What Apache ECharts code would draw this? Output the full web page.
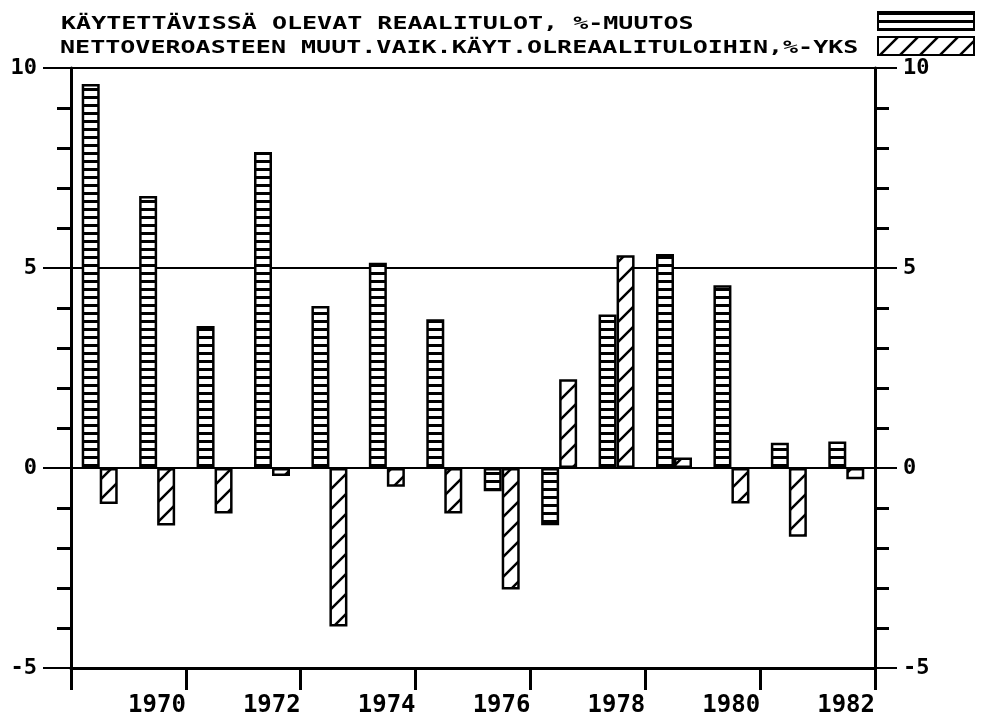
<!DOCTYPE html>
<html>
<head>
<meta charset="utf-8">
<style>
  html, body { margin: 0; padding: 0; background: #fff; }
  #chart { width: 983px; height: 719px; }
</style>
<script src="https://cdn.jsdelivr.net/npm/echarts@6/dist/echarts.min.js"></script>
</head>
<body>
<div id="chart"></div>
<script>
// vuodet (kategoriat)
const years = ['1969', '1970', '1971', '1972', '1973', '1974', '1975',
               '1976', '1977', '1978', '1979', '1980', '1981', '1982'];

// käytettävissä olevat reaalitulot, %-muutos
const realIncome = [9.6, 6.8, 3.55, 7.9, 4.05, 5.13, 3.72, -0.58, -1.43, 3.84, 5.35, 4.57, 0.63, 0.66];

// nettoveroasteen muutoksen vaikutus, %-yks
const taxEffect = [-0.9, -1.44, -1.14, -0.2, -3.96, -0.47, -1.14, -3.04, 2.22, 5.32, 0.26, -0.89, -1.72, -0.28];

const seriesNames = [
    'KÄYTETTÄVISSÄ OLEVAT REAALITULOT, %-MUUTOS',
    'NETTOVEROASTEEN MUUT.VAIK.KÄYT.OLREAALITULOIHIN,%-YKS'
];

const yTicks = { min: -5, max: 10, step: 5 };
const firstYear = 1968;

// vaakaraidat
function stripePattern() {
    const c = document.createElement('canvas');
    c.width = 8; c.height = 8;
    const ctx = c.getContext('2d');
    ctx.fillStyle = '#fff';
    ctx.fillRect(0, 0, 8, 8);
    ctx.fillStyle = '#000';
    ctx.fillRect(0, 0, 8, 3);
    return { image: c, repeat: 'repeat' };
}

// vinoviivoitus
function hatchPattern() {
    const s = 20;
    const c = document.createElement('canvas');
    c.width = s; c.height = s;
    const ctx = c.getContext('2d');
    ctx.fillStyle = '#fff';
    ctx.fillRect(0, 0, s, s);
    ctx.strokeStyle = '#000';
    ctx.lineWidth = 2.5;
    ctx.beginPath();
    ctx.moveTo(-2, s + 2); ctx.lineTo(s + 2, -2);
    ctx.moveTo(-3, 3); ctx.lineTo(3, -3);
    ctx.moveTo(s - 3, s + 3); ctx.lineTo(s + 3, s - 3);
    ctx.stroke();
    return { image: c, repeat: 'repeat' };
}

const monoFont = 'DejaVu Sans Mono';

function yAxisCfg(position, tickLen, margin) {
    return {
        type: 'value',
        position: position,
        min: yTicks.min,
        max: yTicks.max,
        interval: yTicks.step,
        axisLine: { show: true, lineStyle: { color: '#000', width: 3 } },
        axisTick: { show: true, length: tickLen, lineStyle: { color: '#000', width: 2 } },
        minorTick: { show: true, splitNumber: 5, length: 14, lineStyle: { color: '#000', width: 3 } },
        axisLabel: {
            margin: margin,
            color: '#000',
            fontFamily: monoFont,
            fontWeight: 'bold',
            fontSize: 22
        },
        splitLine: { show: position === 'left', lineStyle: { color: '#000', width: 2 } },
        minorSplitLine: { show: false }
    };
}

const chart = echarts.init(document.getElementById('chart'), null, { renderer: 'canvas' });

chart.setOption({
    backgroundColor: '#fff',
    animation: false,
    grid: { left: 71, right: 108, top: 68, bottom: 51, containLabel: false, outerBoundsMode: 'none' },
    legend: {
        orient: 'vertical',
        right: 3,
        top: 6,
        align: 'right',
        itemWidth: 96,
        itemHeight: 18,
        itemGap: 5,
        icon: 'rect',
        formatter: () => '',
        selectedMode: false,
        data: seriesNames
    },
    graphic: [
        {
            type: 'text', x: 61, y: 24, scaleX: 1.39,
            style: { text: seriesNames[0], font: 'bold 18px "DejaVu Sans Mono"', fill: '#000', verticalAlign: 'middle' }
        },
        {
            type: 'text', x: 60, y: 48, scaleX: 1.39,
            style: { text: seriesNames[1], font: 'bold 18px "DejaVu Sans Mono"', fill: '#000', verticalAlign: 'middle' }
        }
    ],
    xAxis: [
        {
            type: 'category',
            data: years,
            show: false
        },
        {
            type: 'value',
            position: 'bottom',
            min: 0,
            max: years.length,
            interval: 2,
            axisLine: { show: true, onZero: false, lineStyle: { color: '#000', width: 3 } },
            axisTick: { show: true, length: 22, lineStyle: { color: '#000', width: 3 } },
            axisLabel: {
                margin: 26,
                align: 'right',
                color: '#000',
                fontFamily: monoFont,
                fontWeight: 'bold',
                fontSize: 24,
                formatter: v => (v === 0 ? '' : String(firstYear + v))
            },
            splitLine: { show: false }
        }
    ],
    yAxis: [
        yAxisCfg('left', 28, 34),
        yAxisCfg('right', 22, 28)
    ],
    series: [
        {
            name: seriesNames[0],
            type: 'bar',
            xAxisIndex: 0,
            yAxisIndex: 0,
            data: realIncome,
            barWidth: 18,
            barGap: '0%',
            itemStyle: { color: stripePattern(), borderColor: '#000', borderWidth: 2.5 }
        },
        {
            name: seriesNames[1],
            type: 'bar',
            xAxisIndex: 0,
            yAxisIndex: 0,
            data: taxEffect,
            barWidth: 18,
            barGap: '0%',
            itemStyle: { color: hatchPattern(), borderColor: '#000', borderWidth: 2.5 }
        }
    ]
});
</script>
</body>
</html>
